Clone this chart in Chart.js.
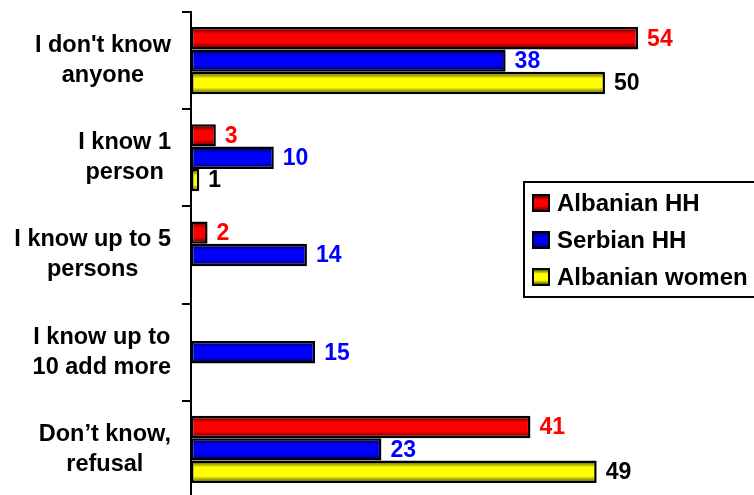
<!DOCTYPE html>
<html>
<head>
<meta charset="utf-8">
<script src="https://cdn.jsdelivr.net/npm/chart.js@4/dist/chart.umd.min.js"></script>
<style>
  html, body { margin: 0; padding: 0; background: #fff; overflow: hidden; }
  #wrap { width: 754px; height: 498px; position: relative; }
</style>
</head>
<body>
<div id="wrap"><canvas id="chart"></canvas></div>
<script>
const categories = [
    ["I don't know", "anyone"],
    ["I know 1", "person"],
    ["I know up to 5", "persons"],
    ["I know up to", "10 add more"],
    ["Don\u2019t know,", "refusal"]
];
const albanianHH = [54, 3, 2, null, 41];
const serbianHH = [38, 10, 14, 15, 23];
const albanianWomen = [50, 1, null, null, 49];

const seriesNames = ['Albanian HH', 'Serbian HH', 'Albanian women'];
const brightColors = ['#ff0000', '#0000ff', '#ffff00'];
const darkColors = ['#400000', '#000040', '#404000'];
const labelColors = ['#ff0000', '#0000ff', '#000000'];

const FONT = '"Liberation Sans", Arial, sans-serif';
const CAT_PCT = 0.69;

function makeGradient(ctx, top, bottom, i) {
    const g = ctx.createLinearGradient(0, top, 0, bottom);
    g.addColorStop(0, darkColors[i]);
    g.addColorStop(0.3, brightColors[i]);
    g.addColorStop(0.7, brightColors[i]);
    g.addColorStop(1, darkColors[i]);
    return g;
}

function barFill(context) {
    const chart = context.chart;
    const i = context.datasetIndex;
    const yS = chart.scales.y;
    if (!chart.chartArea || !yS || context.dataIndex === undefined) return brightColors[i];
    const cat = yS.getPixelForValue(1) - yS.getPixelForValue(0);
    const thick = cat * CAT_PCT / 3;
    const center = yS.getPixelForValue(context.dataIndex) + (i - 1) * thick;
    return makeGradient(chart.ctx, center - thick / 2, center + thick / 2, i);
}

const valueLabels = {
    id: 'valueLabels',
    afterDatasetsDraw(chart) {
        const ctx = chart.ctx;
        ctx.save();
        ctx.font = 'bold 23px ' + FONT;
        ctx.textBaseline = 'middle';
        ctx.textAlign = 'left';
        chart.data.datasets.forEach((ds, i) => {
            chart.getDatasetMeta(i).data.forEach((bar, j) => {
                const v = ds.data[j];
                if (v === null || v === undefined) return;
                ctx.fillStyle = labelColors[i];
                ctx.fillText(String(v), bar.x + 9, bar.y + 1);
            });
        });
        ctx.restore();
    }
};

const categoryLabels = {
    id: 'categoryLabels',
    afterDraw(chart) {
        const ctx = chart.ctx;
        const yS = chart.scales.y;
        ctx.save();
        ctx.font = 'bold 23.5px ' + FONT;
        ctx.fillStyle = '#000';
        ctx.textBaseline = 'middle';
        ctx.textAlign = 'center';
        categories.forEach((lines, j) => {
            const w = Math.max(...lines.map(l => ctx.measureText(l).width));
            const cx = 171 - w / 2;
            const cy = yS.getPixelForValue(j);
            lines.forEach((l, k) => {
                ctx.fillText(l, cx, cy + (k - (lines.length - 1) / 2) * 30);
            });
        });
        ctx.restore();
    }
};

const boxLegend = {
    id: 'boxLegend',
    afterDraw(chart) {
        const ctx = chart.ctx;
        ctx.save();
        ctx.fillStyle = '#fff';
        ctx.fillRect(524, 182, 240, 115);
        ctx.strokeStyle = '#000';
        ctx.lineWidth = 2;
        ctx.strokeRect(524, 182, 240, 115);
        ctx.font = 'bold 24px ' + FONT;
        ctx.textBaseline = 'middle';
        ctx.textAlign = 'left';
        seriesNames.forEach((name, i) => {
            const cy = 203 + i * 37;
            ctx.fillStyle = makeGradient(ctx, cy - 8, cy + 8, i);
            ctx.fillRect(533, cy - 8, 16, 16);
            ctx.lineWidth = 2;
            ctx.strokeRect(533, cy - 8, 16, 16);
            ctx.fillStyle = '#000';
            ctx.fillText(name, 557, cy + 1);
        });
        ctx.restore();
    }
};

const ctx = document.getElementById('chart').getContext('2d');
new Chart(ctx, {
    type: 'bar',
    data: {
        labels: categories,
        datasets: [
            { label: seriesNames[0], data: albanianHH },
            { label: seriesNames[1], data: serbianHH },
            { label: seriesNames[2], data: albanianWomen }
        ].map((d, i) => Object.assign(d, {
            backgroundColor: barFill,
            borderColor: '#000',
            borderWidth: 2.5,
            borderSkipped: false,
            categoryPercentage: CAT_PCT,
            barPercentage: 1
        }))
    },
    options: {
        indexAxis: 'y',
        responsive: true,
        maintainAspectRatio: false,
        animation: false,
        layout: { padding: { top: 12, right: 0, bottom: 0, left: 0 } },
        scales: {
            x: {
                display: false,
                min: 0,
                max: 68
            },
            y: {
                ticks: { display: false },
                grid: {
                    drawOnChartArea: false,
                    drawTicks: true,
                    tickLength: 9,
                    color: '#000',
                    lineWidth: 2,
                    offset: true
                },
                border: { display: true, color: '#000', width: 2 },
                afterFit(scale) { scale.width = 191; }
            }
        },
        plugins: {
            legend: { display: false },
            tooltip: { enabled: false }
        }
    },
    plugins: [valueLabels, categoryLabels, boxLegend]
});
</script>
</body>
</html>
